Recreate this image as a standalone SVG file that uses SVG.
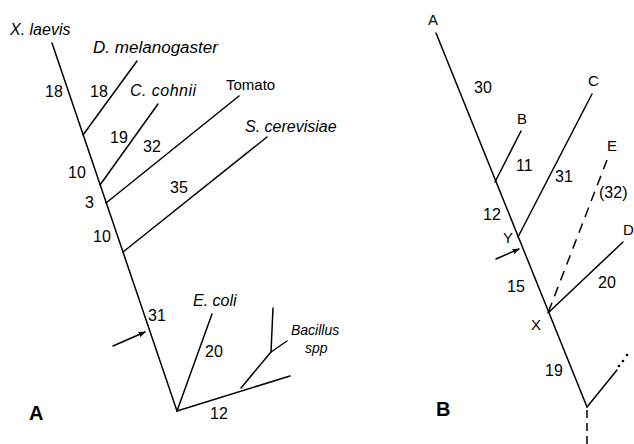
<svg xmlns="http://www.w3.org/2000/svg" width="634" height="444" viewBox="0 0 634 444">
<style>
.ln{stroke:#000;stroke-width:1.5;fill:none;stroke-linecap:round}
.ds{stroke:#000;stroke-width:1.5;fill:none;stroke-dasharray:10 7}
.t{font-family:"Liberation Sans",Arial,sans-serif;font-size:16px;fill:#000}
.i{font-family:"Liberation Sans",Arial,sans-serif;font-size:16px;font-style:italic;fill:#000}
.s{font-family:"Liberation Sans",Arial,sans-serif;font-size:15px;fill:#000}
.b{font-family:"Liberation Sans",Arial,sans-serif;font-size:20px;font-weight:bold;fill:#000}
.bs{font-family:"Liberation Sans",Arial,sans-serif;font-size:14px;font-style:italic;fill:#000}
</style>
<defs>
<marker id="ah" viewBox="0 0 10 10" refX="9" refY="5" markerWidth="7" markerHeight="7" orient="auto" markerUnits="userSpaceOnUse">
<path d="M0,1 L10,5 L0,9 Z" fill="#000"/>
</marker>
</defs>
<rect width="634" height="444" fill="#fff"/>

<g id="connectors">
<!-- Panel A -->
<line class="ln" x1="52" y1="43" x2="177" y2="411"/>
<line class="ln" x1="137" y1="61" x2="83" y2="135"/>
<line class="ln" x1="158" y1="104" x2="100" y2="185"/>
<line class="ln" x1="239" y1="96" x2="106" y2="203"/>
<line class="ln" x1="267" y1="137" x2="123" y2="252"/>
<line class="ln" x1="212" y1="314" x2="177" y2="411"/>
<line class="ln" x1="177" y1="411" x2="290" y2="376"/>
<line class="ln" x1="241" y1="388" x2="271" y2="352"/>
<line class="ln" x1="271" y1="352" x2="273" y2="308"/>
<line class="ln" x1="271" y1="352" x2="287" y2="341"/>
<line class="ln" x1="113" y1="346" x2="145" y2="332" marker-end="url(#ah)"/>
<!-- Panel B -->
<line class="ln" x1="436" y1="33" x2="587" y2="407"/>
<line class="ln" x1="521" y1="131" x2="495" y2="182"/>
<line class="ln" x1="592" y1="94" x2="518" y2="237"/>
<line class="ds" x1="607" y1="160" x2="548" y2="313"/>
<line class="ln" x1="623" y1="242" x2="548" y2="313"/>
<line class="ln" x1="587" y1="407" x2="617" y2="370"/>
<line class="ln" x1="496" y1="259" x2="519" y2="249" marker-end="url(#ah)"/>
<line x1="587" y1="410" x2="587" y2="444" stroke="#000" stroke-width="1.5" stroke-dasharray="8 5"/>
<circle cx="619" cy="366" r="1.3" fill="#000"/>
<circle cx="623" cy="361" r="1.3" fill="#000"/>
<circle cx="627" cy="355" r="1.3" fill="#000"/>
</g>

<g id="panelA-labels">
<text id="xlaevis" class="i" x="10" y="35">X. laevis</text>
<text id="dmel" class="i" x="93" y="53" textLength="125" lengthAdjust="spacingAndGlyphs">D. melanogaster</text>
<text id="ccoh" class="i" x="130" y="96" textLength="66">C. cohnii</text>
<text id="tomato" class="s" x="226" y="90">Tomato</text>
<text id="scer" class="i" x="245" y="132">S. cerevisiae</text>
<text id="ecoli" class="i" x="193" y="306">E. coli</text>
<text id="bac" class="bs" x="291" y="335">Bacillus</text>
<text id="spp" class="bs" x="305" y="353">spp</text>
<text class="t" x="45" y="97">18</text>
<text class="t" x="90" y="97">18</text>
<text class="t" x="110" y="143">19</text>
<text class="t" x="143" y="152">32</text>
<text class="t" x="68" y="178">10</text>
<text class="t" x="85" y="208">3</text>
<text class="t" x="170" y="193">35</text>
<text class="t" x="93" y="242">10</text>
<text class="t" x="148" y="321">31</text>
<text class="t" x="205" y="357">20</text>
<text class="t" x="210" y="419">12</text>
<text class="b" x="29" y="420">A</text>
</g>

<g id="panelB-labels">
<text class="s" x="428" y="25">A</text>
<text class="s" x="517" y="124">B</text>
<text class="s" x="588" y="86">C</text>
<text class="s" x="607" y="151">E</text>
<text class="s" x="623" y="235">D</text>
<text class="s" x="503" y="243">Y</text>
<text class="s" x="531" y="330">X</text>
<text class="t" x="474" y="93">30</text>
<text class="t" x="516" y="171">11</text>
<text class="t" x="555" y="182">31</text>
<text class="t" x="599" y="198">(32)</text>
<text class="t" x="483" y="220">12</text>
<text class="t" x="598" y="288">20</text>
<text class="t" x="507" y="292">15</text>
<text class="t" x="545" y="376">19</text>
<text class="b" x="436" y="416">B</text>
</g>
</svg>
